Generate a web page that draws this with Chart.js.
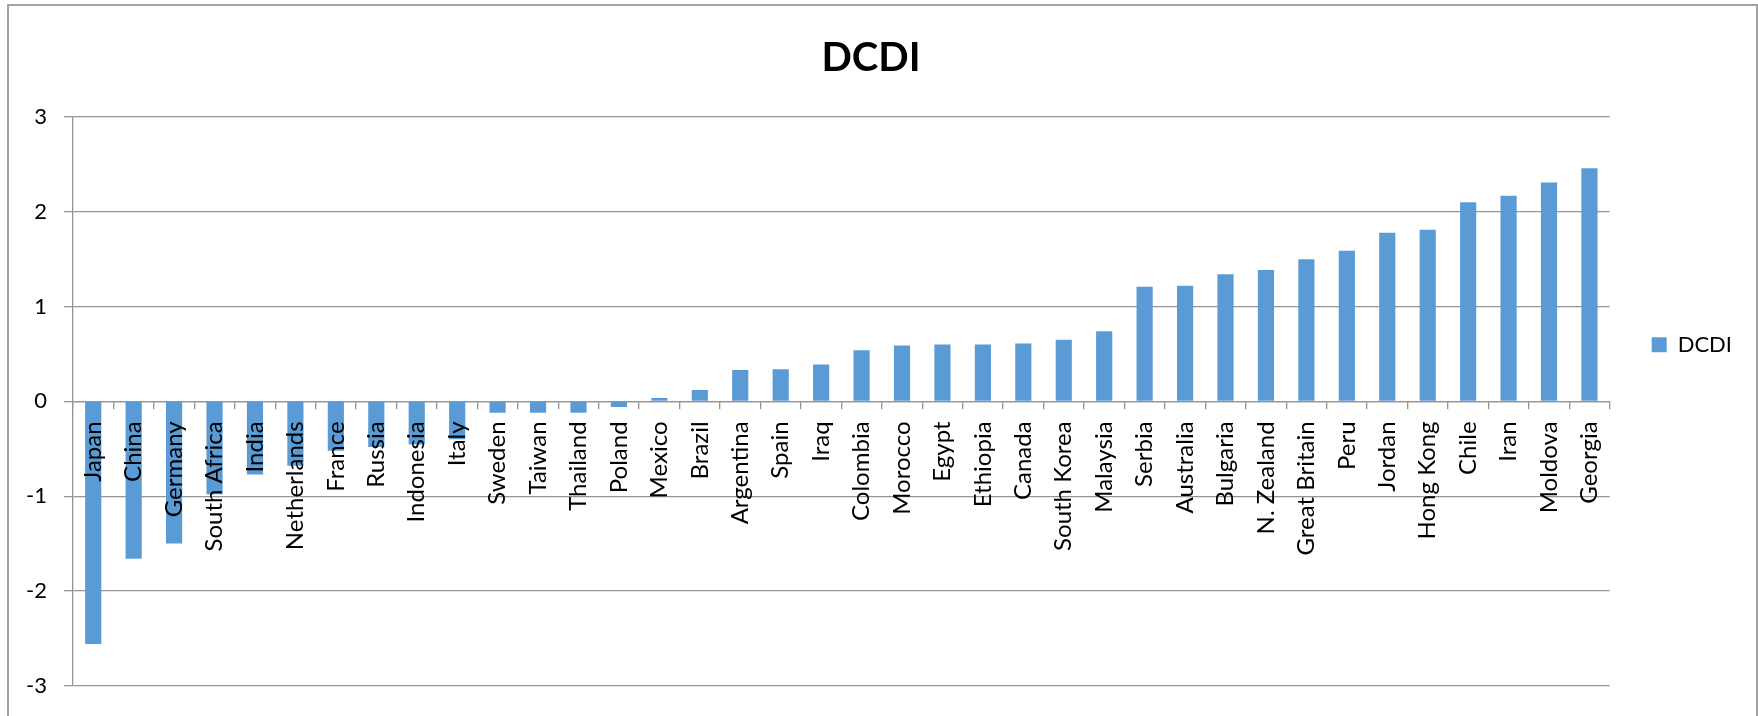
<!DOCTYPE html>
<html>
<head>
<meta charset="utf-8">
<title>DCDI</title>
<script src="https://cdn.jsdelivr.net/npm/chart.js@4.4.0/dist/chart.umd.min.js"></script>
<style>
  html, body { margin: 0; padding: 0; background: #fff; overflow: hidden; }
  #marco {
    position: absolute; left: 7px; top: 4px; width: 1751px; height: 760px;
    box-sizing: border-box; border: 2px solid #a3a3a3;
  }
  #grafico { position: absolute; left: 0; top: 0; }
</style>
</head>
<body>
<div id="marco"></div>
<canvas id="grafico" width="1758" height="716"></canvas>
<script>
// datos del grafico
const paises = ['Japan', 'China', 'Germany', 'South Africa', 'India', 'Netherlands', 'France', 'Russia',
  'Indonesia', 'Italy', 'Sweden', 'Taiwan', 'Thailand', 'Poland', 'Mexico', 'Brazil', 'Argentina',
  'Spain', 'Iraq', 'Colombia', 'Morocco', 'Egypt', 'Ethiopia', 'Canada', 'South Korea', 'Malaysia',
  'Serbia', 'Australia', 'Bulgaria', 'N. Zealand', 'Great Britain', 'Peru', 'Jordan', 'Hong Kong',
  'Chile', 'Iran', 'Moldova', 'Georgia'];
const dcdi = [-2.56, -1.66, -1.50, -0.98, -0.77, -0.68, -0.52, -0.48,
  -0.455, -0.40, -0.12, -0.12, -0.12, -0.06, 0.035, 0.12, 0.33,
  0.34, 0.39, 0.54, 0.59, 0.60, 0.60, 0.61, 0.65, 0.74,
  1.21, 1.22, 1.34, 1.385, 1.50, 1.59, 1.78, 1.81,
  2.10, 2.17, 2.31, 2.46];
const ticksY = [-3, -2, -1, 0, 1, 2, 3];
const titulo = 'DCDI';
const serie = 'DCDI';

const gris = '#959595';

Chart.defaults.font.family = 'Lato';
Chart.defaults.color = '#000';

const ctx = document.getElementById('grafico');
const myChart = new Chart(ctx, {
  type: 'bar',
  data: {
    labels: paises,
    datasets: [{
      label: serie,
      data: dcdi,
      backgroundColor: '#5B9BD5',
      borderWidth: 0,
      barPercentage: 0.4,
      categoryPercentage: 1
    }]
  },
  options: {
    responsive: false,
    animation: false,
    layout: {
      padding: { left: 0, right: 16, top: 0, bottom: 26.7 }
    },
    plugins: {
      tooltip: { enabled: false },
      title: {
        display: true,
        text: titulo,
        font: { size: 40, weight: 'bold' },
        padding: { top: 34, bottom: 35 }
      },
      legend: {
        position: 'right',
        labels: {
          boxWidth: 15,
          boxHeight: 15,
          padding: 42,
          font: { size: 22 }
        }
      }
    },
    scales: {
      x: {
        position: { y: 0 },
        grid: {
          offset: true,
          drawOnChartArea: false,
          drawTicks: true,
          tickLength: 7,
          color: gris,
          lineWidth: 1.3
        },
        border: { display: true, color: gris, width: 1.3 },
        ticks: {
          z: 1, // etiquetas por encima de las barras
          autoSkip: false,
          minRotation: 90,
          maxRotation: 90,
          padding: 13,
          font: { size: 24 }
        }
      },
      y: {
        min: ticksY[0],
        max: ticksY[ticksY.length - 1],
        afterBuildTicks: (s) => { s.ticks = ticksY.map(v => ({ value: v })); },
        afterFit: (s) => { s.width = 73; },
        grid: { color: gris, lineWidth: 1.3, tickLength: 9 },
        border: { display: true, color: gris, width: 1.3 },
        ticks: { padding: 17, font: { size: 22 } }
      }
    }
  }
});
</script>
</body>
</html>
